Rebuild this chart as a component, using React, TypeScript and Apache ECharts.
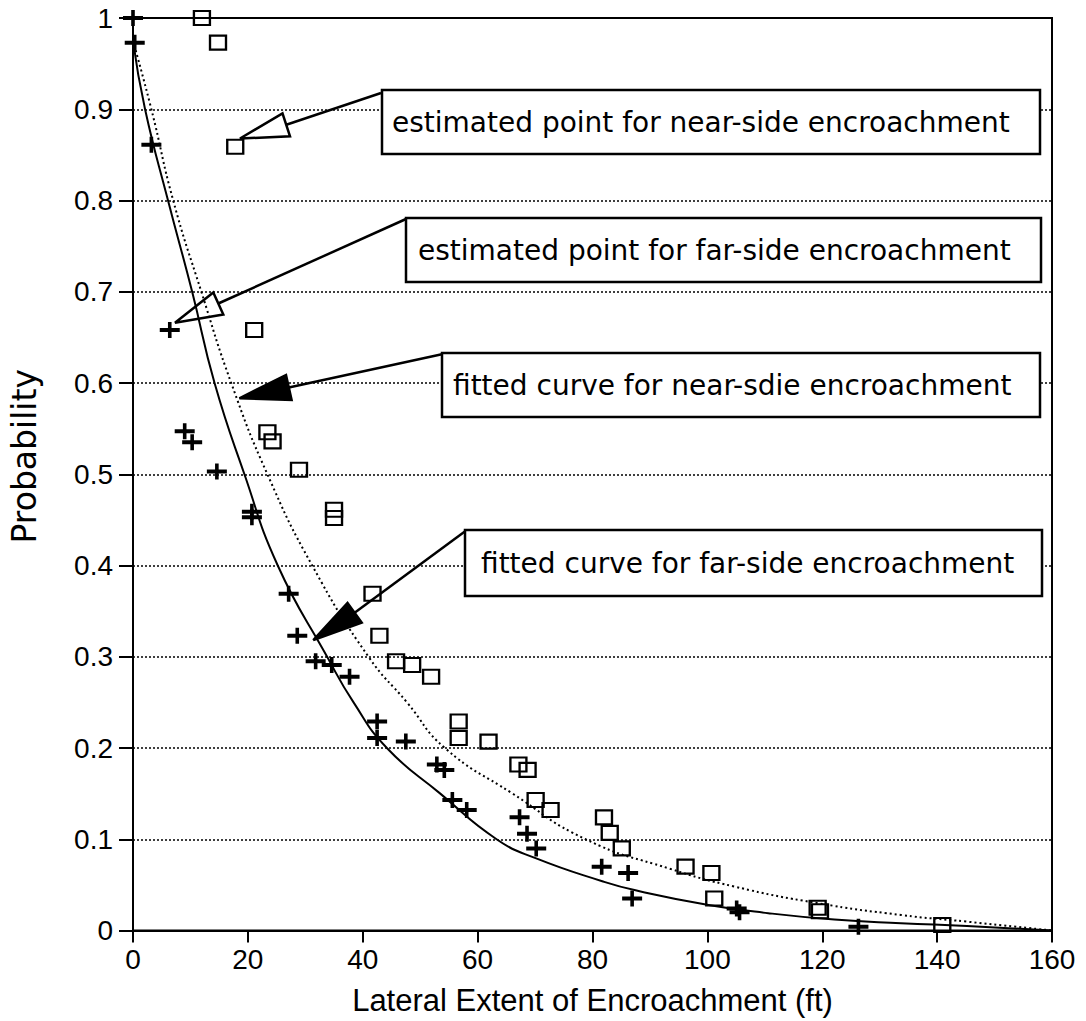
import { useEffect, useRef } from "react";
import * as echarts from "echarts";

// ---- data ----
const xTickValues = [0, 20, 40, 60, 80, 100, 120, 140, 160];

// near-side encroachment (open squares)
const nearSideDist = [12.0, 14.8, 17.8, 21.1, 23.4, 24.3, 28.9, 35.0, 35.0, 41.7, 42.9, 45.8, 48.6, 51.9, 56.7, 56.7, 61.9, 67.1, 68.7, 70.1, 72.7, 82.0, 83.0, 85.1, 96.2, 100.7, 101.2, 119.2, 119.6, 140.9];
const nearSideProb = [1.0, 0.973, 0.859, 0.658, 0.546, 0.536, 0.505, 0.461, 0.452, 0.369, 0.323, 0.295, 0.291, 0.278, 0.229, 0.211, 0.207, 0.182, 0.176, 0.143, 0.132, 0.124, 0.107, 0.09, 0.07, 0.063, 0.035, 0.025, 0.021, 0.006];

// far-side encroachment (plus signs)
const farSideDist = [0.0, 0.3, 3.2, 6.4, 9.0, 10.3, 14.6, 20.7, 20.7, 27.1, 28.6, 31.8, 34.6, 37.7, 42.5, 42.5, 47.5, 52.9, 54.2, 55.6, 58.1, 67.3, 68.6, 70.2, 81.6, 86.2, 86.9, 105.1, 105.6, 126.3];
const farSideProb = [1.0, 0.973, 0.861, 0.658, 0.547, 0.535, 0.503, 0.459, 0.453, 0.369, 0.323, 0.295, 0.291, 0.278, 0.229, 0.211, 0.207, 0.182, 0.176, 0.143, 0.132, 0.124, 0.106, 0.09, 0.07, 0.063, 0.035, 0.024, 0.02, 0.004];

// fitted curve, near-side (dotted)
const nearCurveDist = [0, 3.2, 7.0, 11.9, 17.1, 23.4, 31.2, 41.0, 47.7, 54.3, 66.1, 78.8, 93.3, 104.8, 119.2, 133.7, 145.2, 160];
const nearCurveProb = [0.975, 0.9, 0.8, 0.7, 0.6, 0.5, 0.4, 0.3, 0.25, 0.2, 0.15, 0.1, 0.068, 0.048, 0.03, 0.017, 0.0097, 0];

// fitted curve, far-side (solid)
const farCurveDist = [0, 2.1, 6.1, 10.3, 14.2, 19.4, 25.2, 33.8, 38.4, 44.2, 53.5, 63.3, 70.2, 81.7, 87.5, 100.2, 110.6, 122.1, 133.7, 145.2, 160];
const farCurveProb = [0.975, 0.9, 0.8, 0.7, 0.6, 0.5, 0.4, 0.3, 0.25, 0.2, 0.15, 0.1, 0.079, 0.054, 0.044, 0.028, 0.019, 0.012, 0.008, 0.005, 0];

const annotationTexts = [
  "estimated point for near-side encroachment",
  "estimated point for far-side encroachment",
  "fitted curve for near-sdie encroachment",
  "fitted curve for far-side encroachment",
];

// ---- layout of annotation boxes / arrows (pixels) ----
const boxLayout = [
  { x: 382, y: 90, w: 658, h: 64, tx: 392 },
  { x: 406, y: 218, w: 635, h: 64, tx: 418 },
  { x: 442, y: 353, w: 598, h: 64, tx: 453 },
  { x: 465, y: 530, w: 577, h: 66, tx: 481 },
];
const arrowLayout = [
  { tri: [[240, 138.5], [282.5, 113.3], [290, 136.3]], from: [286.3, 124.8], to: [381, 93], filled: false },
  { tri: [[175, 322.7], [213.3, 292.5], [223.3, 314.5]], from: [218.3, 303.5], to: [406, 219], filled: false },
  { tri: [[239.4, 398.3], [286, 375], [291.6, 400]], from: [288.8, 387.5], to: [443, 354], filled: true },
  { tri: [[313.3, 640], [347.5, 603], [361.7, 622.7]], from: [354.6, 612.8], to: [465.5, 531], filled: true },
];

const PLUS = "path://M8.2,0H11.8V6H20V10H11.8V16H8.2V10H0V6H8.2Z";

export default function App() {
  const ref = useRef<HTMLDivElement>(null);
  useEffect(() => {
    if (!ref.current) return;
    const chart = echarts.init(ref.current, undefined, { renderer: "svg" });
    const zip = (xs: number[], ys: number[]) => xs.map((x, i) => [x, ys[i]]);

    const graphic: any[] = [];
    arrowLayout.forEach((a) => {
      graphic.push({
        type: "line",
        shape: { x1: a.from[0], y1: a.from[1], x2: a.to[0], y2: a.to[1] },
        style: { stroke: "#000", lineWidth: 2.5 },
        z: 100,
      });
      graphic.push({
        type: "polygon",
        shape: { points: a.tri },
        style: { fill: a.filled ? "#000" : "transparent", stroke: "#000", lineWidth: 2.5, lineJoin: "miter" },
        z: 100,
      });
    });
    boxLayout.forEach((b, i) => {
      graphic.push({
        type: "rect",
        shape: { x: b.x, y: b.y, width: b.w, height: b.h },
        style: { fill: "#fff", stroke: "#000", lineWidth: 2.5 },
        z: 100,
      });
      graphic.push({
        type: "text",
        x: b.tx,
        y: b.y + b.h / 2,
        style: {
          text: annotationTexts[i],
          fill: "#000",
          font: "28px 'DejaVu Sans'",
          textAlign: "left",
          textVerticalAlign: "middle",
        },
        z: 101,
      });
    });

    chart.setOption({
      animation: false,
      backgroundColor: "#fff",
      grid: {
        left: 128,
        right: 34,
        top: 18,
        bottom: 90.5,
        show: true,
        borderColor: "#000",
        borderWidth: 2,
        backgroundColor: "transparent",
      },
      xAxis: {
        type: "value",
        min: 0,
        max: 160,
        interval: 20,
        name: "Lateral Extent of Encroachment (ft)",
        nameLocation: "middle",
        nameGap: 54,
        nameTextStyle: { fontFamily: "Liberation Sans", fontSize: 31, color: "#000" },
        axisLine: { show: true, lineStyle: { color: "#000", width: 2 } },
        axisTick: { show: true, inside: false, length: 12, lineStyle: { color: "#000", width: 2 } },
        axisLabel: {
          margin: 15,
          fontFamily: "Liberation Sans",
          fontSize: 28,
          color: "#000",
          customValues: xTickValues,
        },
        splitLine: { show: false },
      },
      yAxis: {
        type: "value",
        min: 0,
        max: 1,
        interval: 0.1,
        name: "Probability",
        nameLocation: "middle",
        nameGap: 92,
        nameTextStyle: { fontFamily: "DejaVu Sans", fontSize: 33, color: "#000", padding: [0, 0, 0, 36] },
        axisLine: { show: true, lineStyle: { color: "#000", width: 2 } },
        axisTick: { show: true, inside: false, length: 14, lineStyle: { color: "#000", width: 2 } },
        axisLabel: { margin: 20, fontFamily: "Liberation Sans", fontSize: 28, color: "#000" },
        splitLine: { show: true, lineStyle: { color: "#000", width: 1.6, type: [2, 2] } },
      },
      series: [
        {
          name: "fitted curve for far-side encroachment",
          type: "line",
          data: zip(farCurveDist, farCurveProb),
          smooth: 0.5,
          symbol: "none",
          lineStyle: { color: "#000", width: 2 },
          z: 2,
        },
        {
          name: "fitted curve for near-side encroachment",
          type: "line",
          data: zip(nearCurveDist, nearCurveProb),
          smooth: 0.5,
          symbol: "none",
          lineStyle: { color: "#000", width: 2, type: [2, 3] },
          z: 2,
        },
        {
          name: "near-side encroachment",
          type: "scatter",
          data: zip(nearSideDist, nearSideProb),
          symbol: "rect",
          symbolSize: [16, 14],
          itemStyle: { color: "transparent", borderColor: "#000", borderWidth: 2.2, opacity: 1 },
          z: 3,
        },
        {
          name: "far-side encroachment",
          type: "scatter",
          data: zip(farSideDist, farSideProb),
          symbol: PLUS,
          symbolSize: [20, 16],
          itemStyle: { color: "#000", opacity: 1 },
          z: 4,
        },
      ],
      graphic,
    });
    return () => chart.dispose();
  }, []);
  return (
    <div
      ref={ref}
      style={{ position: "fixed", left: 0, top: 0, width: 1086, height: 1021, background: "#fff" }}
    />
  );
}
